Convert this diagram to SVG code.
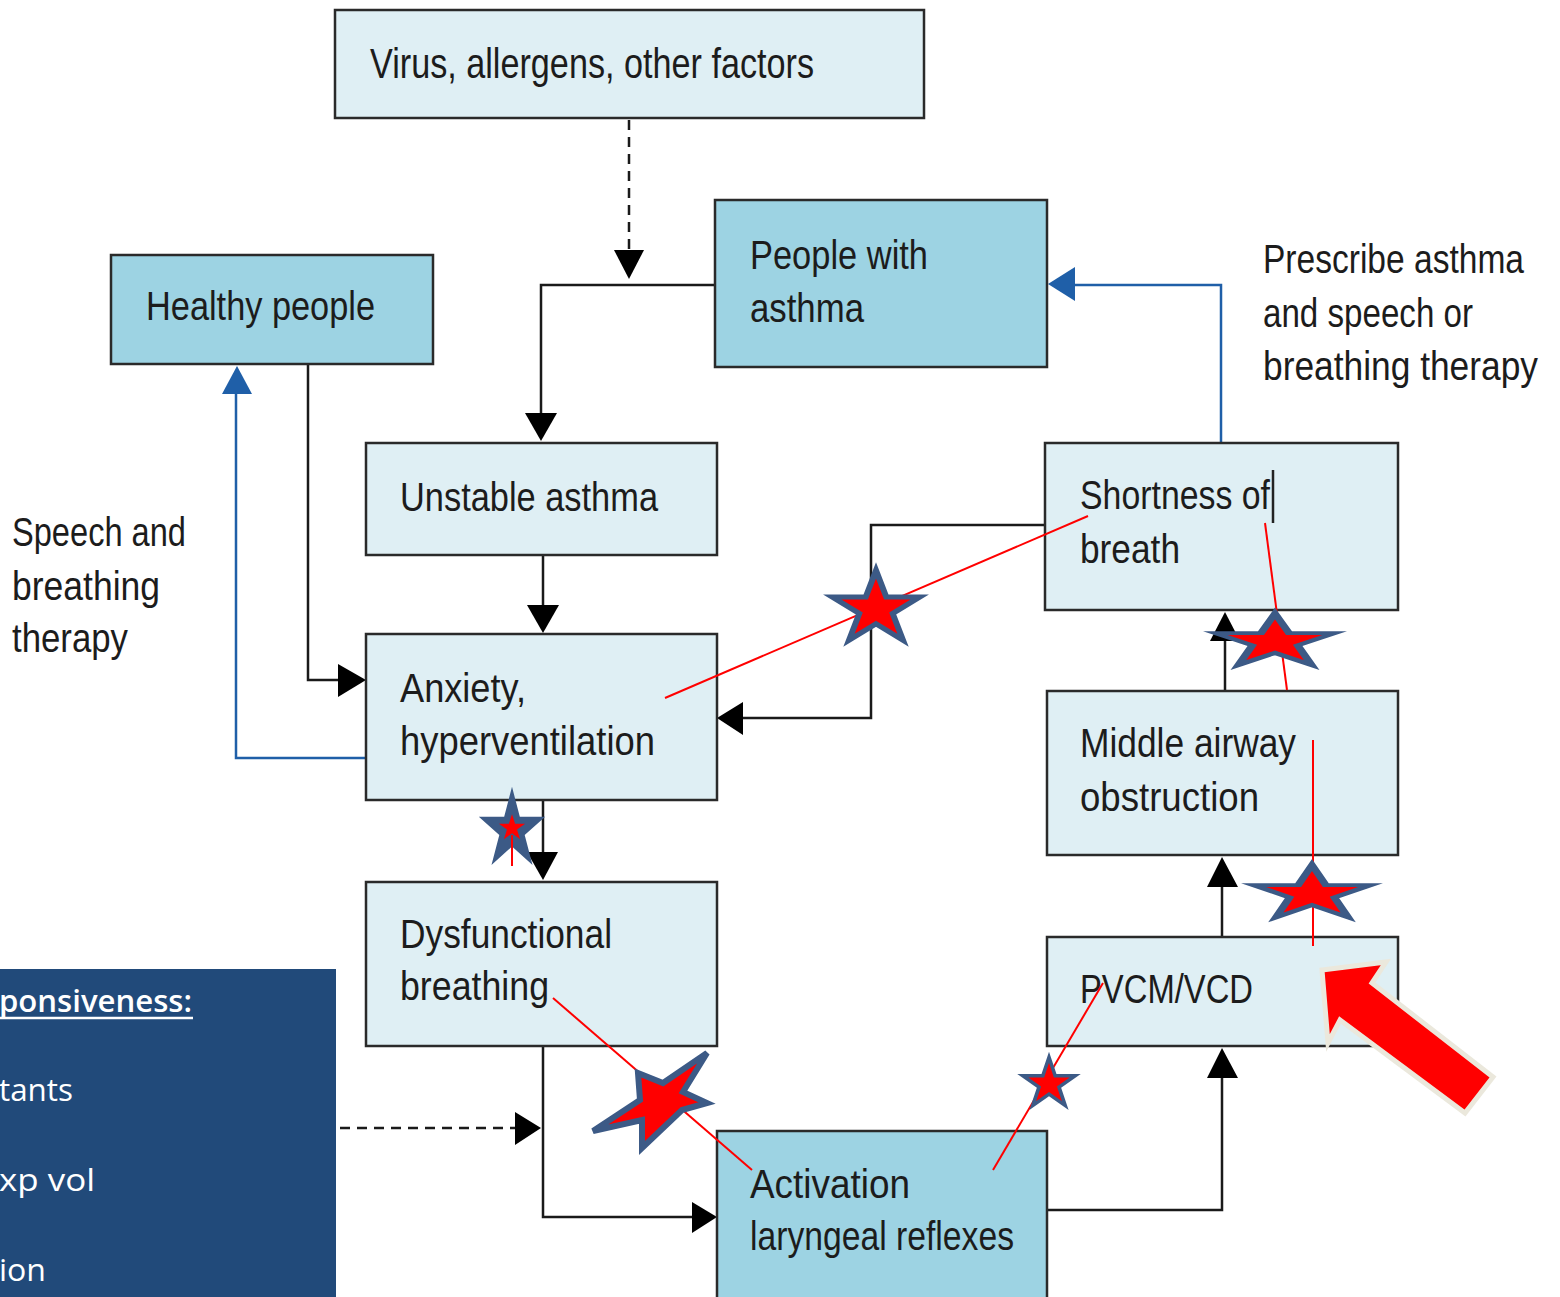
<svg xmlns="http://www.w3.org/2000/svg" width="1560" height="1297" viewBox="0 0 1560 1297">
<style>
.lt{fill:#dfeff4;stroke:#2a2a2a;stroke-width:2.5}
.dk{fill:#9dd3e3;stroke:#2a2a2a;stroke-width:2.5}
.t{font-family:"Liberation Sans Narrow","Liberation Sans",Arial,sans-serif;font-size:40px;fill:#1c1c1c}
.pt{font-family:"Open Sans","Liberation Sans",sans-serif;font-size:31px;fill:#ffffff}
.c{fill:none;stroke:#1a1a1a;stroke-width:2.5}
.b{fill:none;stroke:#1f5fa8;stroke-width:2.5}
.d{fill:none;stroke:#1a1a1a;stroke-width:2.5;stroke-dasharray:10 7}
.ah{fill:#000}
.bh{fill:#1f5fa8}
.r{stroke:#ff0000;stroke-width:2;fill:none}
.st{fill:#ff0000;stroke:#3c5a86;stroke-width:6;stroke-linejoin:miter}
</style>
<rect width="1560" height="1297" fill="#ffffff"/>

<g id="panel">
<rect x="0" y="969" width="336" height="328" fill="#214a7a"/>
<text class="pt" x="-1" y="1012" textLength="193" lengthAdjust="spacingAndGlyphs" font-weight="600">ponsiveness:</text>
<line x1="0" y1="1018" x2="193" y2="1018" stroke="#fff" stroke-width="2.5"/>
<text class="pt" x="-1" y="1101" textLength="74" lengthAdjust="spacingAndGlyphs">tants</text>
<text class="pt" x="-1" y="1191" textLength="96" lengthAdjust="spacingAndGlyphs">xp  vol</text>
<text class="pt" x="-1" y="1281" textLength="47" lengthAdjust="spacingAndGlyphs">ion</text>
</g>

<g id="connectors">
<line class="d" x1="629" y1="120" x2="629" y2="252"/>
<polygon class="ah" points="614,250 644,250 629,279"/>
<polyline class="c" points="716,285 541,285 541,414"/>
<polygon class="ah" points="525,413 557,413 541,441"/>
<line class="c" x1="543" y1="556" x2="543" y2="606"/>
<polygon class="ah" points="527,605 559,605 543,633"/>
<polyline class="c" points="308,365 308,680 340,680"/>
<polygon class="ah" points="338,664 338,697 366,680"/>
<polyline class="b" points="366,758 236,758 236,393"/>
<polygon class="bh" points="222,394 252,394 237,366"/>
<polyline class="c" points="1045,525 871,525 871,718 742,718"/>
<polygon class="ah" points="743,702 743,735 717,718"/>
<polyline class="b" points="1221,443 1221,285 1074,285"/>
<polygon class="bh" points="1075,267 1075,301 1048,284"/>
<line class="c" x1="543" y1="801" x2="543" y2="854"/>
<polygon class="ah" points="527,852 558,852 543,880"/>
<polyline class="c" points="543,1047 543,1217 693,1217"/>
<polygon class="ah" points="692,1202 692,1233 717,1217"/>
<line class="d" x1="340" y1="1128" x2="515" y2="1128"/>
<polygon class="ah" points="515,1112 515,1145 541,1128"/>
<polyline class="c" points="1048,1210 1222,1210 1222,1077"/>
<polygon class="ah" points="1207,1078 1238,1078 1222,1048"/>
<line class="c" x1="1222" y1="937" x2="1222" y2="886"/>
<polygon class="ah" points="1207,887 1238,887 1222,857"/>
<line class="c" x1="1225" y1="691" x2="1225" y2="640"/>
<polygon class="ah" points="1210,641 1240,641 1225,612"/>
</g>

<g id="virus"><rect class="lt" x="335" y="10" width="589" height="108"/>
<text class="t" x="370" y="78" textLength="444" lengthAdjust="spacingAndGlyphs" style="font-size:43px">Virus, allergens, other factors</text></g>

<g id="people-asthma"><rect class="dk" x="715" y="200" width="332" height="167"/>
<text class="t" x="750" y="269" textLength="178" lengthAdjust="spacingAndGlyphs">People with</text>
<text class="t" x="750" y="322" textLength="114" lengthAdjust="spacingAndGlyphs">asthma</text></g>

<g id="healthy"><rect class="dk" x="111" y="255" width="322" height="109"/>
<text class="t" x="146" y="320" textLength="229" lengthAdjust="spacingAndGlyphs">Healthy people</text></g>

<g id="unstable"><rect class="lt" x="366" y="443" width="351" height="112"/>
<text class="t" x="400" y="511" textLength="258" lengthAdjust="spacingAndGlyphs">Unstable asthma</text></g>

<g id="shortness"><rect class="lt" x="1045" y="443" width="353" height="167"/>
<text class="t" x="1080" y="509" textLength="190" lengthAdjust="spacingAndGlyphs">Shortness of</text>
<text class="t" x="1080" y="563" textLength="100" lengthAdjust="spacingAndGlyphs">breath</text>
<line x1="1273" y1="470" x2="1273" y2="523" stroke="#222" stroke-width="2.5"/></g>

<g id="anxiety"><rect class="lt" x="366" y="634" width="351" height="166"/>
<text class="t" x="400" y="702" textLength="126" lengthAdjust="spacingAndGlyphs">Anxiety,</text>
<text class="t" x="400" y="755" textLength="255" lengthAdjust="spacingAndGlyphs">hyperventilation</text></g>

<g id="middle"><rect class="lt" x="1047" y="691" width="351" height="164"/>
<text class="t" x="1080" y="757" textLength="216" lengthAdjust="spacingAndGlyphs">Middle airway</text>
<text class="t" x="1080" y="811" textLength="179" lengthAdjust="spacingAndGlyphs">obstruction</text></g>

<g id="dysfunctional"><rect class="lt" x="366" y="882" width="351" height="164"/>
<text class="t" x="400" y="948" textLength="212" lengthAdjust="spacingAndGlyphs">Dysfunctional</text>
<text class="t" x="400" y="1000" textLength="149" lengthAdjust="spacingAndGlyphs">breathing</text></g>

<g id="pvcm"><rect class="lt" x="1047" y="937" width="351" height="109"/>
<text class="t" x="1080" y="1003" textLength="173" lengthAdjust="spacingAndGlyphs">PVCM/VCD</text></g>

<g id="activation"><rect class="dk" x="717" y="1131" width="330" height="168"/>
<text class="t" x="750" y="1198" textLength="160" lengthAdjust="spacingAndGlyphs">Activation</text>
<text class="t" x="750" y="1250" textLength="264" lengthAdjust="spacingAndGlyphs">laryngeal reflexes</text></g>

<g id="labels">
<text class="t" x="1263" y="273" textLength="261" lengthAdjust="spacingAndGlyphs">Prescribe asthma</text>
<text class="t" x="1263" y="327" textLength="210" lengthAdjust="spacingAndGlyphs">and speech or</text>
<text class="t" x="1263" y="380" textLength="275" lengthAdjust="spacingAndGlyphs">breathing therapy</text>
<text class="t" x="12" y="546" textLength="174" lengthAdjust="spacingAndGlyphs">Speech and</text>
<text class="t" x="12" y="600" textLength="148" lengthAdjust="spacingAndGlyphs">breathing</text>
<text class="t" x="12" y="652" textLength="116" lengthAdjust="spacingAndGlyphs">therapy</text>
</g>

<g id="annotations">
<line class="r" x1="665" y1="698" x2="1088" y2="516"/>
<polygon class="st" transform="translate(876,609) scale(1,0.84)" points="0,-46 10.3,-14.2 43.7,-14.2 16.7,5.4 27,37.2 0,17.6 -27,37.2 -16.7,5.4 -43.7,-14.2 -10.3,-14.2"/>
<line class="r" x1="1265" y1="523" x2="1287" y2="690"/>
<polygon class="st" transform="translate(1275,642) scale(1.36,0.62)" points="0,-46 10.3,-14.2 43.7,-14.2 16.7,5.4 27,37.2 0,17.6 -27,37.2 -16.7,5.4 -43.7,-14.2 -10.3,-14.2"/>
<line class="r" x1="1313" y1="740" x2="1313" y2="946"/>
<polygon class="st" transform="translate(1312,894) scale(1.34,0.63)" points="0,-46 10.3,-14.2 43.7,-14.2 16.7,5.4 27,37.2 0,17.6 -27,37.2 -16.7,5.4 -43.7,-14.2 -10.3,-14.2"/>
<polygon fill="#3c5a86" transform="translate(512,830) scale(0.76,0.94)" points="0,-46 10.3,-14.2 43.7,-14.2 16.7,5.4 27,37.2 0,17.6 -27,37.2 -16.7,5.4 -43.7,-14.2 -10.3,-14.2"/>
<polygon fill="#ff0000" transform="translate(512,828) scale(0.3,0.3)" points="0,-46 10.3,-14.2 43.7,-14.2 16.7,5.4 27,37.2 0,17.6 -27,37.2 -16.7,5.4 -43.7,-14.2 -10.3,-14.2"/>
<line class="r" x1="512" y1="835" x2="512" y2="866"/>
<line class="r" x1="553" y1="998" x2="752" y2="1170"/>
<polygon class="st" points="638,1073 663,1083 707,1053 683,1092 707,1103 682,1110 642,1148 642,1120 593,1131 640,1100"/>
<line class="r" x1="993" y1="1170" x2="1103" y2="983"/>
<polygon class="st" transform="translate(1049,1084) scale(0.6,0.58)" points="0,-46 10.3,-14.2 43.7,-14.2 16.7,5.4 27,37.2 0,17.6 -27,37.2 -16.7,5.4 -43.7,-14.2 -10.3,-14.2"/>
<polygon fill="#ff0000" stroke="#ebe8dc" stroke-width="5" stroke-linejoin="miter" points="1322,970 1386,962 1372,983 1493,1077 1465,1113 1340,1020 1328,1043"/>
</g>
</svg>
